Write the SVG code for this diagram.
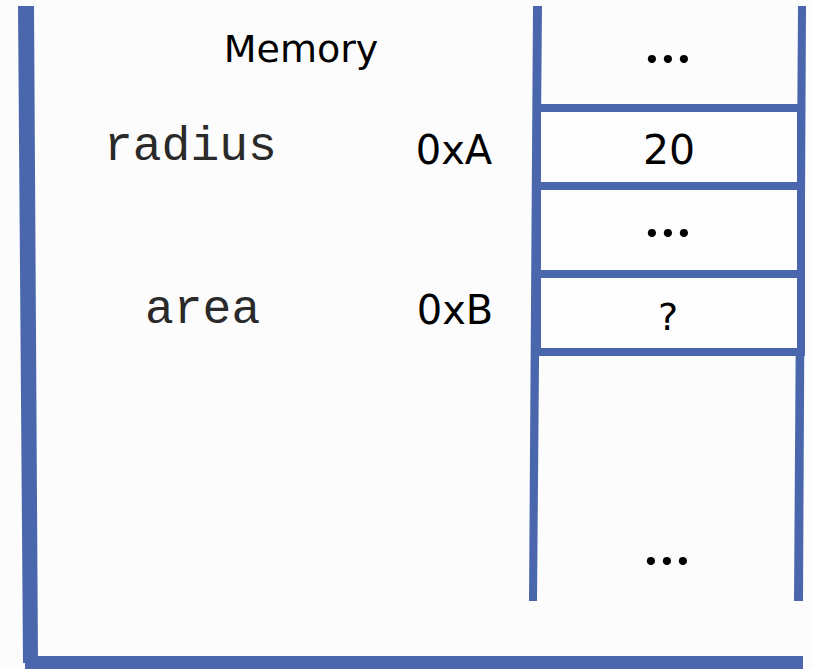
<svg xmlns="http://www.w3.org/2000/svg" width="813" height="669" viewBox="0 0 813 669">
<style>
.bar{fill:#4A67AE;stroke:none}
.cell{fill:#fdfdfd;stroke:#4A67AE;stroke-width:8}
.sans{font-family:"DejaVu Sans","Liberation Sans",sans-serif;fill:#000}
.mono{font-family:"Liberation Mono","Courier New",monospace;fill:#2a2a2a;font-size:48px}
.dots{font-family:Lato,"DejaVu Sans",sans-serif;font-size:54px;font-weight:bold;text-anchor:middle;fill:#000}
</style>
<rect x="0" y="0" width="813" height="669" fill="#fcfcfc"/>
<g id="frame">
<polygon class="bar" points="18,6 34,6 38,663 23,663"/>
<rect class="bar" x="25" y="656" width="778" height="13"/>
</g>
<g id="title">
<text class="sans" x="301" y="62" font-size="38" text-anchor="middle">Memory</text>
</g>
<g id="column">
<polygon class="bar" points="533,6 542,6 537,601 529,601"/>
<polygon class="bar" points="798,6 806,6 803,601 794,601"/>
</g>
<g id="cell-top">
<text class="dots" x="652 668 684" y="63">...</text>
</g>
<g id="cell-radius">
<rect class="cell" x="537" y="108" width="264" height="78"/>
<text class="sans" x="669" y="164" font-size="41" text-anchor="middle">20</text>
</g>
<g id="cell-gap">
<rect class="cell" x="537" y="186" width="264" height="88"/>
<text class="dots" x="652 668 684" y="237">...</text>
</g>
<g id="cell-area">
<rect class="cell" x="537" y="274" width="264" height="78"/>
<text class="sans" x="668" y="330" font-size="38" text-anchor="middle">?</text>
</g>
<g id="cell-bottom">
<text class="dots" x="651 667 683" y="565">...</text>
</g>
<g id="var-radius">
<text class="mono" x="104" y="160">radius</text>
<text class="sans" x="454" y="164" font-size="40" text-anchor="middle">0xA</text>
</g>
<g id="var-area">
<text class="mono" x="145" y="323">area</text>
<text class="sans" x="455" y="324" font-size="40" text-anchor="middle">0xB</text>
</g>
<g id="connectors"></g>
</svg>
